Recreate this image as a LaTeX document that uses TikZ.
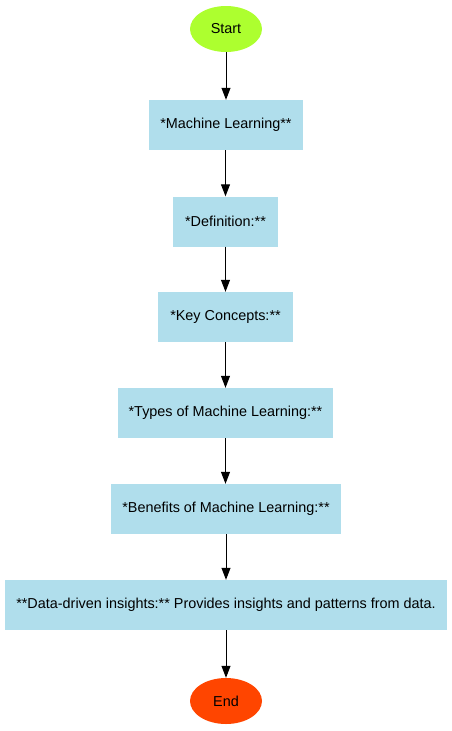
\documentclass[tikz,border=0pt]{standalone}
\usepackage{fontspec}
\setmainfont{Liberation Sans}
\usetikzlibrary{shapes.geometric,arrows.meta}
\definecolor{boxblue}{HTML}{B0DEEC}
\definecolor{startgreen}{HTML}{ADFF2F}
\definecolor{endred}{HTML}{FF4500}
\begin{document}
\begin{tikzpicture}[x=1pt,y=-1pt,
  every node/.style={font=\fontsize{14.4}{17}\selectfont, inner sep=0pt},
  stepbox/.style={rectangle, fill=boxblue, minimum height=50pt},
  term/.style={ellipse, minimum width=72pt, minimum height=46pt},
  link/.style={draw=black, line width=1pt, -{Triangle[length=12pt,width=9pt]}}]
\useasboundingbox (0,0) rectangle (452,731);
\node[term, fill=startgreen] (start) at (226,29) {Start};
\node[stepbox, minimum width=154pt] (ml) at (226,125) {*Machine Learning**};
\node[stepbox, minimum width=105pt] (def) at (225.5,221.5) {*Definition:**};
\node[stepbox, minimum width=135pt] (key) at (225.5,317) {*Key Concepts:**};
\node[stepbox, minimum width=215pt] (types) at (225.5,413) {*Types of Machine Learning:**};
\node[stepbox, minimum width=230pt] (ben) at (226,509) {*Benefits of Machine Learning:**};
\node[stepbox, minimum width=442pt] (data) at (226,605) {**Data-driven insights:** Provides insights and patterns from data.};
\node[term, fill=endred] (end) at (226,701) {End};
\draw[link] (start.south) -- (ml.north -| start.south);
\draw[link] (ml.south -| def.north) -- (def.north);
\draw[link] (def.south) -- (key.north);
\draw[link] (key.south) -- (types.north);
\draw[link] (types.south) -- (ben.north -| types.south);
\draw[link] (ben.south) -- (data.north);
\draw[link] (data.south) -- (end.north);
\end{tikzpicture}
\end{document}
